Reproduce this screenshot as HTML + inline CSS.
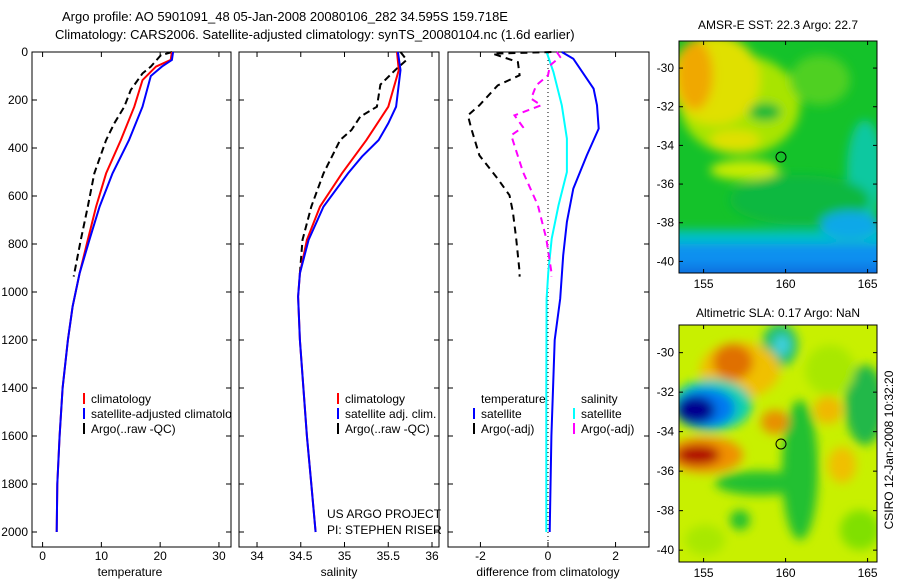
<!DOCTYPE html>
<html><head><meta charset="utf-8"><style>
body{margin:0;background:#fff;}
svg{display:block;font-family:"Liberation Sans",sans-serif;}
text{font-size:12px;fill:#000;}
</style></head><body>
<svg id="fig" width="900" height="580" viewBox="0 0 900 580">
<defs>
<filter id="blur" x="-30%" y="-30%" width="160%" height="160%"><feGaussianBlur stdDeviation="5"/></filter>
<clipPath id="clip1"><rect x="679" y="41" width="198" height="232"/></clipPath>
<clipPath id="clip2"><rect x="679" y="325" width="198" height="237"/></clipPath>
<clipPath id="clipP1"><rect x="32" y="52" width="199" height="495"/></clipPath>
</defs>
<text x="62" y="21" style="font-size:13px">Argo profile: AO 5901091_48 05-Jan-2008 20080106_282 34.595S 159.718E</text>
<text x="55" y="39" style="font-size:13px">Climatology: CARS2006. Satellite-adjusted climatology: synTS_20080104.nc (1.6d earlier)</text>

<!-- SST map -->
<g clip-path="url(#clip1)">
<rect x="679" y="41" width="198" height="232" fill="#14c22a"/>
<g filter="url(#blur)">
<ellipse cx="740" cy="105" rx="60" ry="50" fill="#a8e400"/>
<ellipse cx="715" cy="80" rx="45" ry="45" fill="#e0e000"/>
<ellipse cx="695" cy="75" rx="18" ry="35" fill="#f0a800"/>
<ellipse cx="735" cy="140" rx="25" ry="10" fill="#e0e000"/>
<ellipse cx="820" cy="80" rx="30" ry="25" fill="#50d020"/>
<ellipse cx="745" cy="170" rx="35" ry="10" fill="#c8ec00"/>
<ellipse cx="765" cy="112" rx="16" ry="9" fill="#10b838"/>
<ellipse cx="865" cy="170" rx="18" ry="50" fill="#10c8a0"/>
<ellipse cx="800" cy="200" rx="70" ry="25" fill="#10b840"/>
<rect x="660" y="230" width="240" height="16" fill="#00c0c8"/>
<rect x="660" y="244" width="240" height="40" fill="#1090f0"/>
<ellipse cx="850" cy="225" rx="30" ry="14" fill="#10a8e8"/>
<rect x="660" y="266" width="240" height="15" fill="#0870e0"/>
</g>
</g>
<rect x="679" y="41" width="198" height="232" fill="none" stroke="#000"/>
<circle cx="781" cy="157" r="5" fill="none" stroke="#000"/>
<text x="778" y="29" text-anchor="middle">AMSR-E SST: 22.3 Argo: 22.7</text>

<!-- SLA map -->
<g clip-path="url(#clip2)">
<rect x="679" y="325" width="198" height="237" fill="#c8f000"/>
<g filter="url(#blur)">
<ellipse cx="800" cy="470" rx="18" ry="70" fill="#20c030"/>
<ellipse cx="760" cy="483" rx="45" ry="12" fill="#20c030"/>
<ellipse cx="865" cy="405" rx="20" ry="40" fill="#20b848"/>
<ellipse cx="780" cy="345" rx="18" ry="22" fill="#20c070"/>
<ellipse cx="782" cy="345" rx="8" ry="10" fill="#40d0e0"/>
<ellipse cx="740" cy="370" rx="40" ry="28" fill="#f0c000"/>
<ellipse cx="733" cy="362" rx="20" ry="18" fill="#e07000"/>
<ellipse cx="712" cy="405" rx="40" ry="26" fill="#10d0b0"/>
<ellipse cx="705" cy="408" rx="30" ry="20" fill="#0078f0"/>
<ellipse cx="695" cy="410" rx="20" ry="14" fill="#000090"/>
<ellipse cx="705" cy="455" rx="38" ry="18" fill="#f09000"/>
<ellipse cx="698" cy="455" rx="22" ry="10" fill="#b00000"/>
<ellipse cx="775" cy="422" rx="14" ry="12" fill="#e89000"/>
<ellipse cx="828" cy="410" rx="14" ry="14" fill="#f0b800"/>
<ellipse cx="842" cy="465" rx="14" ry="18" fill="#f0c000"/>
<ellipse cx="830" cy="370" rx="25" ry="25" fill="#a8e800"/>
<ellipse cx="860" cy="530" rx="20" ry="20" fill="#80e000"/>
<ellipse cx="740" cy="520" rx="10" ry="10" fill="#20c030"/>
<ellipse cx="705" cy="540" rx="20" ry="15" fill="#a8e800"/>
</g>
</g>
<rect x="679" y="325" width="198" height="237" fill="none" stroke="#000"/>
<circle cx="781" cy="444" r="5" fill="none" stroke="#000"/>
<text x="778" y="317" text-anchor="middle">Altimetric SLA: 0.17 Argo: NaN</text>
<text transform="translate(893,450) rotate(-90)" text-anchor="middle">CSIRO 12-Jan-2008 10:32:20</text>

<text x="327" y="518">US ARGO PROJECT</text>
<text x="327" y="534">PI: STEPHEN RISER</text>
<g id="plots"></g>
</svg>
<script>
// Depth (m) levels shared by series
const depthRed = [0,33,61,117,228,367,506,644,783,922,1061,1200,1400,1600,1800,2000];
const tempClim = [22.0,21.8,19.3,17,15.6,13.3,10.8,9.1,7.7,6.3,5.1,4.3,3.4,2.9,2.5,2.4];
const depthBlue = [0,33,61,100,228,367,506,644,783,922,1061,1200,1400,1600,1800,2000];
const tempSat = [22.2,22.0,20.3,18.4,17,14.7,11.9,9.7,7.97,6.3,5.1,4.3,3.4,2.9,2.5,2.4];
const depthArgo = [0,14,61,89,158,228,297,367,506,644,783,922,936];
const tempArgo = [22,20.1,18.4,17,15,13.9,12.2,10.8,8.8,7.7,6.5,5.4,5.3];

const salDepthClim = [0,75,228,367,506,644,783,922,1019,1200,1400,1600,1800,2000];
const salClim = [35.60,35.62,35.50,35.25,34.97,34.72,34.57,34.49,34.47,34.49,34.53,34.57,34.62,34.67];
const salDepthSat = [0,75,228,297,367,436,506,644,783,922,1019,1200,1400,1600,1800,2000];
const salSat = [35.61,35.64,35.59,35.50,35.39,35.2,35.04,34.76,34.59,34.49,34.47,34.49,34.53,34.57,34.62,34.67];
const salDepthArgo = [0,33,75,136,228,269,325,367,506,644,783,922,936];
const salArgo = [35.64,35.71,35.58,35.41,35.37,35.18,35.08,34.95,34.76,34.62,34.52,34.49,34.49];

const dDepthT = [0,28,153,222,319,431,569,708,847,1028,1200,1600,2000];
const dTempSat = [0.41,0.75,1.35,1.45,1.5,1.15,0.75,0.56,0.45,0.36,0.2,0.1,0.05];
const dDepthS = [0,83,222,361,500,639,778,917,1028,1400,2000];
const dSalSat = [-0.04,0.16,0.41,0.56,0.56,0.31,0.11,0.01,-0.04,-0.05,-0.05];
const dDepthTA = [0,7,42,97,139,222,264,319,431,528,597,667,778,917,936];
const dTempArgo = [0.1,-1.63,-0.89,-0.84,-1.49,-2.03,-2.37,-2.27,-2.03,-1.49,-1.14,-1.04,-0.94,-0.84,-0.84];
const dDepthSA = [0,21,56,97,139,194,222,264,313,347,500,639,778,917,936];
const dSalArgo = [0.26,0.36,0.06,0.0,-0.35,-0.5,-0.2,-0.99,-0.74,-1.09,-0.74,-0.3,-0.05,0.1,0.1];

const depthTicks = [0,200,400,600,800,1000,1200,1400,1600,1800,2000];
const tempTicks = [0,10,20,30];
const salTicks = [34,34.5,35,35.5,36];
const diffTicks = [-2,0,2];
const latTicks = [-30,-32,-34,-36,-38,-40];
const lonTicks = [155,160,165];

const NS='http://www.w3.org/2000/svg';
const root=document.getElementById('plots');
const top0=52, pxPerM=0.24, bottom=547;
const yD=d=>top0+d*pxPerM;
function mk(tag,attrs,parent){const e=document.createElementNS(NS,tag);for(const k in attrs)e.setAttribute(k,attrs[k]);(parent||root).appendChild(e);return e;}

const panels=[
 {name:'temperature',x0:32,x1:231,v0:-1.8,v1:32.05,ticks:tempTicks,label:'temperature',lx:130},
 {name:'salinity',x0:239,x1:439,v0:33.794,v1:36.08,ticks:salTicks,label:'salinity',lx:339},
 {name:'difference',x0:448,x1:649,v0:-2.96,v1:2.99,ticks:diffTicks,label:'difference from climatology',lx:548}
];
panels.forEach(p=>{p.x=v=>p.x0+(v-p.v0)/(p.v1-p.v0)*(p.x1-p.x0);});

panels.forEach((p,i)=>{
 const g=mk('g',{});
 
 
 const fr=mk('rect',{x:p.x0,y:top0,width:p.x1-p.x0,height:bottom-top0,fill:'none',stroke:'#000'},g);
 
 
 depthTicks.forEach(d=>{
  mk('line',{x1:p.x0,x2:p.x0+5,y1:yD(d),y2:yD(d),stroke:'#000'},g);
  mk('line',{x1:p.x1,x2:p.x1-5,y1:yD(d),y2:yD(d),stroke:'#000'},g);
  if(i===0){const t=mk('text',{x:28,y:yD(d)+4,'text-anchor':'end'},g);t.textContent=d;
   
   }
 });
 p.ticks.forEach(v=>{
  const x=p.x(v);
  mk('line',{x1:x,x2:x,y1:top0,y2:top0+5,stroke:'#000'},g);
  mk('line',{x1:x,x2:x,y1:bottom,y2:bottom-5,stroke:'#000'},g);
  const t=mk('text',{x:x,y:560,'text-anchor':'middle'},g);t.textContent=v;
  
  
 });
 const lb=mk('text',{x:p.lx,y:576,'text-anchor':'middle'},g);lb.textContent=p.label;
 
 
});
const zl=mk('line',{x1:panels[2].x(0),x2:panels[2].x(0),y1:top0,y2:bottom,stroke:'#000','stroke-dasharray':'1,3'});



function series(p,depths,vals,color,dash,name){
 const pts=depths.map((d,i)=>p.x(vals[i]).toFixed(1)+','+yD(d).toFixed(1)).join(' ');
 const l=mk('polyline',{points:pts,fill:'none',stroke:color,'stroke-width':2});
 if(dash)l.setAttribute('stroke-dasharray',dash);
 
 
}
const P=panels;
series(P[0],depthArgo,tempArgo,'#000','7,4','temp-argo-line');
series(P[0],depthRed,tempClim,'#f00',null,'temp-climatology-line');
series(P[0],depthBlue,tempSat,'#00f',null,'temp-satellite-line');
series(P[1],salDepthArgo,salArgo,'#000','7,4','sal-argo-line');
series(P[1],salDepthClim,salClim,'#f00',null,'sal-climatology-line');
series(P[1],salDepthSat,salSat,'#00f',null,'sal-satellite-line');
series(P[2],dDepthT,dTempSat,'#00f',null,'diff-temp-satellite-line');
series(P[2],dDepthS,dSalSat,'#0ff',null,'diff-sal-satellite-line');
series(P[2],dDepthTA,dTempArgo,'#000','7,5','diff-temp-argo-line');
series(P[2],dDepthSA,dSalArgo,'#f0f','7,5','diff-sal-argo-line');

function legend(x,y,color,label,name,clip){
 const g=mk('g',{});
 
 
 if(clip)g.setAttribute('clip-path','url(#clipP1)');
 if(color)mk('rect',{x:x,y:y-10,width:2,height:11,fill:color},g);
 const t=mk('text',{x:x+8,y:y},g);t.textContent=label;
}
legend(83,403,'#f00','climatology','legend-temp-climatology',true);
legend(83,418,'#00f','satellite-adjusted climatology','legend-temp-satellite',true);
legend(83,433,'#000','Argo(..raw -QC)','legend-temp-argo',true);
legend(337,403,'#f00','climatology','legend-sal-climatology');
legend(337,418,'#00f','satellite adj. clim.','legend-sal-satellite');
legend(337,433,'#000','Argo(..raw -QC)','legend-sal-argo');
legend(473,403,null,'temperature','legend-temp-heading');
legend(473,418,'#00f','satellite','legend-diff-temp-satellite');
legend(473,433,'#000','Argo(-adj)','legend-diff-temp-argo');
legend(573,403,null,'salinity','legend-sal-heading');
legend(573,418,'#0ff','satellite','legend-diff-sal-satellite');
legend(573,433,'#f0f','Argo(-adj)','legend-diff-sal-argo');

const maps=[{y0:41,y1:273,name:'sst'},{y0:325,y1:562,name:'sla'}];
const lonX=l=>679+(l-153.5)*16.4;
maps.forEach(m=>{
 const latY=v=>m.y0+(v-(-28.6))/(-40.6-(-28.6))*(m.y1-m.y0);
 latTicks.forEach(v=>{
  const y=latY(v);
  mk('line',{x1:679,x2:683,y1:y,y2:y,stroke:'#000'});
  mk('line',{x1:877,x2:873,y1:y,y2:y,stroke:'#000'});
  const t=mk('text',{x:674,y:y+4,'text-anchor':'end'});t.textContent=v;
  
  
 });
 lonTicks.forEach(v=>{
  const x=lonX(v);
  mk('line',{x1:x,x2:x,y1:m.y0,y2:m.y0+4,stroke:'#000'});
  mk('line',{x1:x,x2:x,y1:m.y1,y2:m.y1-4,stroke:'#000'});
  const t=mk('text',{x:x,y:m.y1+15,'text-anchor':'middle'});t.textContent=v;
  
  
 });
});
</script>
</body></html>
